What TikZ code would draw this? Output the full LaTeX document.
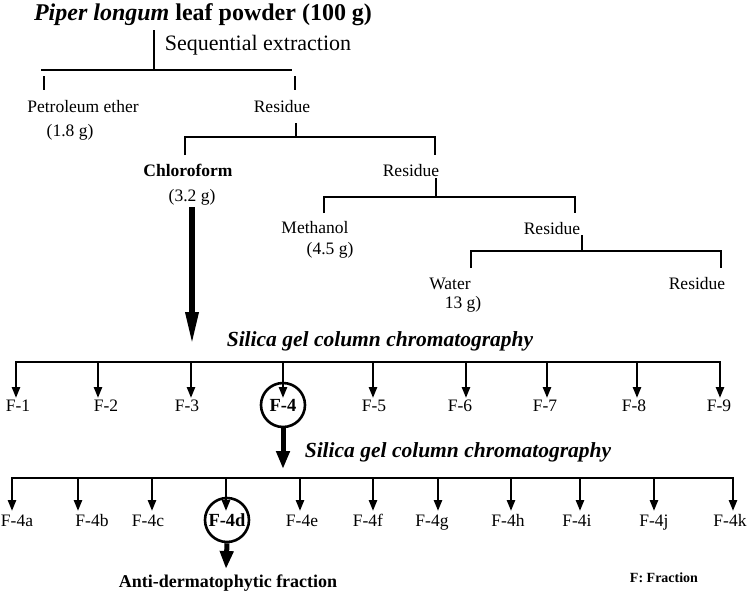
\documentclass[tikz,border=0pt]{standalone}
\usepackage{fontspec}
\setmainfont{Liberation Serif}
\usetikzlibrary{arrows.meta}
\begin{document}
\begin{tikzpicture}[x=1pt,y=-1pt,
  lbl/.style={font=\fontsize{17.5}{20}\selectfont, inner sep=0pt, anchor=center, text height=13pt, text depth=1pt},
  blbl/.style={lbl, font=\fontsize{17.5}{20}\selectfont\bfseries},
  titlefont/.style={font=\fontsize{24}{28}\selectfont\bfseries, inner sep=0pt, text height=17pt, text depth=1pt},
  silica/.style={font=\fontsize{21.5}{24}\selectfont\bfseries\itshape, inner sep=0pt, text height=15pt, text depth=1pt},
  tree/.style={line width=1.2pt},
  rowline/.style={line width=2.6pt, line cap=rect},
  farrow/.style={line width=2.4pt, -{Triangle[width=8pt,length=11pt]}},
  bigarrow/.style={line width=6pt, -{Triangle[width=12pt,length=34pt]}},
  midarrow/.style={line width=5pt, -{Triangle[width=13pt,length=18pt]}},
  ring/.style={circle, draw, line width=2.6pt, minimum size=44pt, inner sep=0pt,
               font=\fontsize{18.5}{20}\selectfont\bfseries}
]
\useasboundingbox (0,0) rectangle (750,590);

% ---- extraction tree ----
\node[titlefont] (title) at (203,12) {\textit{Piper longum} leaf powder (100 g)};
\node[lbl, font=\fontsize{22}{24}\selectfont, text height=15pt] (seq) at (258,43) {Sequential extraction};
\coordinate (a0) at (154,30);
\coordinate (a1) at (154,70);
\coordinate (a2) at (41,70);
\coordinate (a3) at (292,70);
\draw[tree] (a0) -- (a1);
\draw[tree] (a2) -- (a3);
\coordinate (b0) at (44,76);  \coordinate (b1) at (44,90);
\coordinate (b2) at (295,76); \coordinate (b3) at (295,90);
\draw[tree] (b0) -- (b1);
\draw[tree] (b2) -- (b3);

\node[lbl] (pe) at (83,106) {Petroleum ether};
\node[lbl] (pey) at (70,130) {(1.8 g)};
\node[lbl] (r1) at (282,106) {Residue};

\coordinate (c0) at (296,123); \coordinate (c1) at (296,137);
\coordinate (c2) at (185,137); \coordinate (c3) at (435,137);
\coordinate (c4) at (185,155); \coordinate (c5) at (435,155);
\draw[tree] (c0) -- (c1);
\draw[tree] (c4) -- (c2) -- (c3) -- (c5);

\node[blbl] (ch) at (188,170) {Chloroform};
\node[lbl] (chy) at (192,195) {(3.2 g)};
\node[lbl] (r2) at (411,170) {Residue};

\coordinate (d0) at (436,178); \coordinate (d1) at (436,197);
\coordinate (d2) at (324,197); \coordinate (d3) at (575,197);
\coordinate (d4) at (324,213); \coordinate (d5) at (575,213);
\draw[tree] (d0) -- (d1);
\draw[tree] (d4) -- (d2) -- (d3) -- (d5);

\node[lbl] (me) at (315,227) {Methanol};
\node[lbl] (mey) at (330,248) {(4.5 g)};
\node[lbl] (r3) at (552,228) {Residue};

\coordinate (e0) at (582,235); \coordinate (e1) at (582,251);
\coordinate (e2) at (471,251); \coordinate (e3) at (721,251);
\coordinate (e4) at (471,268); \coordinate (e5) at (721,268);
\draw[tree] (e0) -- (e1);
\draw[tree] (e4) -- (e2) -- (e3) -- (e5);

\node[lbl] (wa) at (450,283) {Water};
\node[lbl] (way) at (463,302) {13 g)};
\node[lbl] (r4) at (697,283) {Residue};

% ---- first column ----
\coordinate (big0) at (192,207);
\coordinate (big1) at (192,346);
\draw[bigarrow] (big0) -- (big1);
\node[silica] (s1) at (380,339) {Silica gel column chromatography};

\coordinate (h1l) at (16,362);
\coordinate (h1r) at (720,362);
\draw[rowline] (h1l) -- (h1r);

\foreach \ax/\lx/\n in {16/18/1, 98/106/2, 191/187/3, 373/374/5, 466/460/6, 547/545/7, 637/634/8, 720/719/9}{
  \node[lbl] (f\n) at (\lx,405) {F-\n};
  \coordinate (fa\n) at (\ax,362);
  \coordinate (fb\n) at (\ax,398);
  \draw[farrow] (fa\n) -- (fb\n);
}
\node[ring] (f4) at (283,405) {F-4};
\coordinate (fa4) at (283,362);
\coordinate (fb4) at (283,398);
\draw[farrow] (fa4) -- (fb4);

% ---- second column ----
\coordinate (mid1) at (283,469);
\draw[midarrow] (f4.south) -- (mid1);
\node[silica] (s2) at (458,450) {Silica gel column chromatography};

\coordinate (h2l) at (12,478);
\coordinate (h2r) at (733,478);
\draw[rowline] (h2l) -- (h2r);

\foreach \ax/\lx/\n in {12/17/a, 78/92/b, 152/148/c, 300/302/e, 373/368/f, 438/432/g, 511/508/h, 580/577/i, 654/654/j, 733/730/k}{
  \node[lbl] (g\n) at (\lx,520) {F-4\n};
  \coordinate (ga\n) at (\ax,478);
  \coordinate (gb\n) at (\ax,511);
  \draw[farrow] (ga\n) -- (gb\n);
}
\node[ring] (gd) at (227,520) {F-4d};
\coordinate (gad) at (226,478);
\coordinate (gbd) at (226,511);
\draw[farrow] (gad) -- (gbd);

\coordinate (fin) at (226,569);
\draw[midarrow] (gd.south) -- (fin);
\node[blbl, font=\fontsize{18}{20}\selectfont\bfseries] (anti) at (228,581) {Anti-dermatophytic fraction};
\node[lbl, font=\fontsize{14}{16}\selectfont\bfseries, text height=10pt] (key) at (664,578) {F: Fraction};
\end{tikzpicture}
\end{document}
